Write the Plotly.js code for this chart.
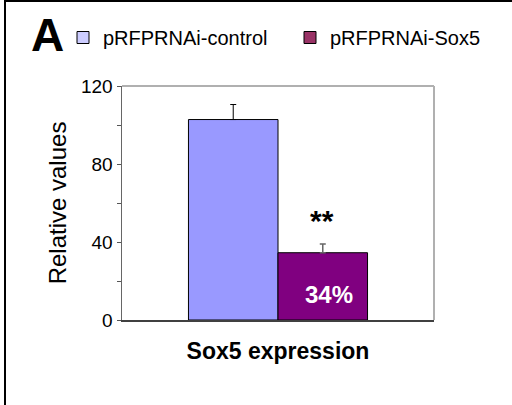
<!DOCTYPE html>
<html>
<head>
<meta charset="utf-8">
<script src="https://cdn.plot.ly/plotly-3.0.1.min.js"></script>
<style>html,body{margin:0;padding:0;background:#fff;}#chart{width:512px;height:405px;}</style>
</head>
<body>
<div id="chart"></div>
<script>
var categories = ['Sox5 expression'];
var seriesNames = ['pRFPRNAi-control', 'pRFPRNAi-Sox5'];
var controlValues = [102.8];
var sox5Values = [34.5];
var controlErrors = [7.7];
var sox5Errors = [4.5];
var yTickVals = [0, 20, 40, 60, 80, 100, 120];
var yTickText = ['0', '', '40', '', '80', '', '120'];
var barLabel = '34%';
var sigLabel = '**';
var panelLabel = 'A';

var FONT = 'Liberation Sans, Arial, sans-serif';
var L = 122, R = 434, T = 86, B = 320, W = 512, H = 405;
function px(x){ return (x - L) / (R - L); }
function py(y){ return (B - y) / (B - T); }

var traces = [
  {type:'bar', x:categories, y:controlValues, name:seriesNames[0], offsetgroup:'a', showlegend:false,
   marker:{color:'#9999ff', line:{color:'#000', width:1}},
   error_y:{type:'data', array:controlErrors, arrayminus:[0], symmetric:false, color:'#000', thickness:1, width:3}},
  {type:'bar', x:categories, y:sox5Values, name:seriesNames[1], offsetgroup:'b', showlegend:false,
   marker:{color:'#800080', line:{color:'#000', width:1}},
   error_y:{type:'data', array:sox5Errors, arrayminus:[0], symmetric:false, color:'#666', thickness:1.5, width:3}},
  {type:'bar', x:categories, y:[null], name:seriesNames[0], offsetgroup:'a', showlegend:true, legend:'legend',
   marker:{color:'#ccccff', line:{color:'#000', width:1}}},
  {type:'bar', x:categories, y:[null], name:seriesNames[1], offsetgroup:'b', showlegend:true, legend:'legend2',
   marker:{color:'#993366', line:{color:'#000', width:1}}}
];

function legendAt(xpx, ypx){
  return {orientation: 'h', xref: 'container', yref: 'container', x: xpx / W, xanchor: 'left',
          y: 1 - ypx / H, yanchor: 'top', font: {family: FONT, size: 20, color: '#000'},
          bgcolor: 'rgba(0,0,0,0)'};
}

var layout = {
  width: W, height: H,
  margin: {l: L, r: W - R, t: T, b: H - B, pad: 0},
  paper_bgcolor: '#fff', plot_bgcolor: '#fff',
  font: {family: FONT, color: '#000'},
  barmode: 'group', bargap: 0.426, bargroupgap: 0,
  showlegend: true,
  legend: legendAt(63, 18),
  legend2: legendAt(290, 18),
  xaxis: {type: 'category', range: [-0.5, 0.5], showticklabels: false, ticks: '',
          showline: true, linecolor: '#404040', linewidth: 2, showgrid: false, zeroline: false,
          title: {text: '<b>Sox5 expression</b>', font: {family: FONT, size: 23, color: '#000'}, standoff: 22},
          automargin: false, fixedrange: true},
  yaxis: {range: [0, 120], tickvals: yTickVals, ticktext: yTickText, ticks: 'outside', ticklen: 4,
          tickcolor: '#555', tickwidth: 1, showline: true, linecolor: '#666', linewidth: 1.5,
          showgrid: false, zeroline: false, tickfont: {family: FONT, size: 19, color: '#000'},
          title: {text: 'Relative values', font: {family: FONT, size: 24, color: '#000'}, standoff: 7},
          automargin: false, fixedrange: true},
  shapes: [
    {type: 'line', xref: 'paper', yref: 'paper', x0: 0, x1: 1, y0: 1, y1: 1, line: {color: '#b0b0b0', width: 2}},
    {type: 'line', xref: 'paper', yref: 'paper', x0: 1, x1: 1, y0: 0, y1: 1, line: {color: '#b0b0b0', width: 2}},
    {type: 'rect', xref: 'paper', yref: 'paper', x0: px(5), x1: px(530), y0: py(1), y1: py(420),
     line: {color: '#000', width: 2}, layer: 'below'}
  ],
  annotations: [
    {text: '<b>' + panelLabel + '</b>', xref: 'paper', yref: 'paper', x: px(47), y: py(35),
     xanchor: 'center', yanchor: 'middle', showarrow: false, font: {family: FONT, size: 46, color: '#000'}},
    {text: '<b>' + sigLabel + '</b>', xref: 'paper', yref: 'y', x: px(322), y: sox5Values[0] + 7,
     xanchor: 'center', yanchor: 'bottom', showarrow: false, font: {family: FONT, size: 30, color: '#000'}},
    {text: '<b>' + barLabel + '</b>', xref: 'paper', yref: 'y', x: px(329), y: sox5Values[0] / 2 - 4,
     xanchor: 'center', yanchor: 'middle', showarrow: false, font: {family: FONT, size: 24, color: '#fff'}}
  ]
};

Plotly.newPlot('chart', traces, layout, {displayModeBar: false, staticPlot: true});
</script>
</body>
</html>
